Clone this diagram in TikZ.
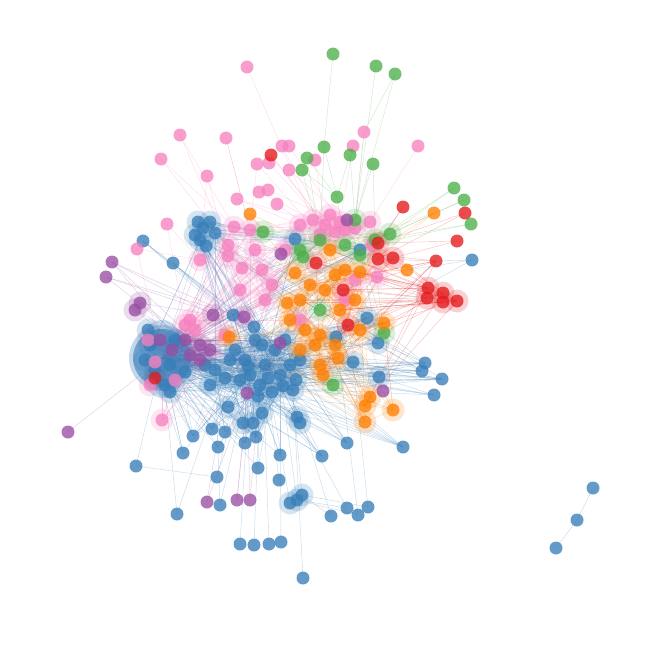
\documentclass[tikz,border=0pt]{standalone}
\pgfdeclarelayer{edges}
\pgfdeclarelayer{halo}
\pgfsetlayers{edges,halo,main}
\definecolor{cb}{HTML}{377EB8}
\definecolor{cp}{HTML}{F781BF}
\definecolor{cg}{HTML}{4DAF4A}
\definecolor{cr}{HTML}{E41A1C}
\definecolor{co}{HTML}{FF7F00}
\definecolor{cu}{HTML}{984EA3}
\tikzset{
  vtx/.style={circle, inner sep=0pt, minimum size=13pt, draw=none, fill opacity=0.78},
  vb/.style={vtx, fill=cb}, vp/.style={vtx, fill=cp}, vg/.style={vtx, fill=cg},
  vr/.style={vtx, fill=cr}, vo/.style={vtx, fill=co}, vu/.style={vtx, fill=cu},
  lnk/.style={line width=0.45pt, draw opacity=0.28},
  lb/.style={lnk, draw=cb}, lp/.style={lnk, draw=cp}, lg/.style={lnk, draw=cg},
  lr/.style={lnk, draw=cr}, lo/.style={lnk, draw=co}, lu/.style={lnk, draw=cu},
  glow/.style={fill opacity=0.2}
}
\begin{document}
\begin{tikzpicture}[x=1pt,y=-1pt]
\useasboundingbox (0,0) rectangle (648,648);
\node[vb, minimum size=58pt, fill opacity=0.6] (H) at (162,358) {};
% blue
\foreach \n/\x/\y in {1/203/228,2/195/235,3/210/222,4/198/222,5/206/246,6/143/241,7/173/263,8/472/260,9/233/315,10/254/327,
11/295/239,12/367/318,13/378/343,14/336/337,15/360/250,16/425/363,17/422/371,18/442/379,19/434/395,20/379/377,
21/353/362,22/347/443,23/403/447,24/322/456,25/228/407,26/262/413,27/243/423,28/253/423,29/297/417,30/300/423,
31/293/390,32/212/429,33/225/432,34/193/436,35/218/447,36/245/443,37/183/453,38/256/437,39/280/455,40/258/468,
41/136/466,42/217/477,43/220/505,44/177/514,45/279/480,46/297/500,47/302/495,48/290/503,49/331/516,50/347/508,
51/240/544,52/254/545,53/269/544,54/281/542,55/303/578,56/358/515,57/368/507,58/593/488,59/577/520,60/556/548,
61/265/365,62/250/375,63/280/375,64/260/385,65/245/360,66/275/350,67/290/365,68/230/360,69/215/370,70/255/340,
71/262/345,72/240/380,73/272/392,74/285/340,75/200/240,76/215/233,77/150/345,78/170/365,79/155/370,80/175/340,
81/145/360,82/185/372,83/165/385,84/235/350,85/248/366,86/268/378,87/283/386,88/296/380,89/300/360,90/258/396,
91/225/378,92/205/365,93/210/385,94/148/330,95/170/392}
  \node[vb] (b\n) at (\x,\y) {};
% pink
\foreach \n/\x/\y in {1/247/67,2/180/135,3/226/138,4/161/159,5/207/176,6/237/199,7/167/224,8/137/249,9/282/146,10/289/146,
11/257/164,12/269/163,13/289/170,14/259/192,15/268/190,16/277/204,17/364/132,18/353/146,19/418/146,20/315/160,
21/234/227,22/228/245,23/228/256,24/242/268,25/200/260,26/190/320,27/162/420,28/313/220,29/325/225,30/340/222,
31/355/228,32/370/222,33/320/235,34/377/277,35/345/300,36/300/320,37/262/270,38/272/285,39/255/250,40/285/250,
41/265/300,42/250/230,43/372/245,44/225/335,45/185/325,46/195/330,47/300/225,48/335/232,49/240/290,50/355/280,
51/155/362,52/148/340,53/175/380,54/150/385,55/330/215,56/345/230}
  \node[vp] (p\n) at (\x,\y) {};
% green
\foreach \n/\x/\y in {1/333/54,2/376/66,3/395/74,4/324/147,5/350/155,6/373/164,7/307/158,8/302/170,9/337/197,10/454/188,
11/464/200,12/471/224,13/263/232,14/390/234,15/360/255,16/303/257,17/384/333,18/333/385,19/355/220,20/375/240,
21/345/245,22/320/240,23/300/250,24/320/310}
  \node[vg] (g\n) at (\x,\y) {};
% red
\foreach \n/\x/\y in {1/271/155,2/403/207,3/465/213,4/457/241,5/436/261,6/428/288,7/427/298,8/443/293,9/443/302,10/457/301,
11/393/258,12/378/259,13/378/243,14/316/263,15/348/325,16/155/378,17/343/290}
  \node[vr] (r\n) at (\x,\y) {};
% orange
\foreach \n/\x/\y in {1/250/214,2/434/213,3/407/270,4/360/272,5/229/337,6/338/358,7/323/375,8/370/397,9/365/406,10/393/410,
11/365/422,12/384/323,13/295/273,14/310/285,15/300/300,16/325/290,17/335/275,18/290/320,19/305/330,20/320/335,
21/340/310,22/300/350,23/315/345,24/355/300,25/330/250,26/287/303,27/345/270,28/360/330,29/320/365,30/335/345}
  \node[vo] (o\n) at (\x,\y) {};
% purple
\foreach \n/\x/\y in {1/112/262,2/106/277,3/140/303,4/135/310,5/213/315,6/244/317,7/281/254,8/347/220,9/280/343,10/383/391,
11/247/393,12/207/502,13/237/500,14/250/500,15/68/432,16/200/345,17/190/355,18/210/350,19/185/340,20/172/350,21/160/340,
22/200/360}
  \node[vu] (u\n) at (\x,\y) {};

\begin{pgfonlayer}{halo}
\foreach \n in {1,2,3,4,5,11,12,13,14,20,21,25,26,27,28,29,30,31,46,47,48,61,62,63,64,65,66,67,68,69,70,71,72,73,74,75,76,77,78,79,80,81,82,83,84,85,86,87,88,89,90,91,92,93,94,95}
  \fill[cb, glow] (b\n.center) circle (11.5pt);
\foreach \n in {21,...,56} \fill[cp, glow] (p\n.center) circle (11.5pt);
\foreach \n in {13,...,24} \fill[cg, glow] (g\n.center) circle (11.5pt);
\foreach \n in {6,...,17} \fill[cr, glow] (r\n.center) circle (11.5pt);
\foreach \n in {4,...,30} \fill[co, glow] (o\n.center) circle (11.5pt);
\foreach \n in {3,4,5,6,16,17,18,19,20,21,22} \fill[cu, glow] (u\n.center) circle (11.5pt);
\fill[cb, fill opacity=0.3] (H.center) circle (33pt);
\fill[cb, fill opacity=0.25] (162,338) circle (18pt);
\fill[cb, fill opacity=0.25] (163,380) circle (18pt);
\end{pgfonlayer}

\begin{pgfonlayer}{edges}
\foreach \a/\b in {b6/b9,b6/b10,b6/u6,b6/b70,b7/b9,b7/b10,b7/b70,b1/b11,b3/b11,b4/g13,b1/g21,b3/b15,b2/b70,b5/b10,b5/b9,
b1/b66,b75/b61,b76/b11,b2/b61,b4/b15,b8/r5,b8/o3,b16/b61,b17/b61,b18/b67,b19/b61,b16/b12,b17/b14,b18/b21,b19/b20,
b16/b13,b22/b61,b23/b61,b23/b31,b24/b62,b22/b67,b24/b64,b41/H,b41/b42,b42/b65,b43/b62,b43/b69,b44/b68,b44/H,b45/b61,
b46/b63,b47/b67,b48/b61,b49/b47,b49/b31,b50/b46,b50/b29,b51/b62,b52/b64,b53/b71,b54/b63,b55/b31,b56/b46,b56/b14,
b57/b47,b57/b21,b58/b59,b59/b60,b34/H,b37/H,b32/H,b35/b61,b36/b61,b38/b62,b39/b63,b40/b64,b25/b61,b26/b62,b27/b65,
b28/b68,b29/b67,b30/b63,b31/b66,b33/b69,b12/b61,b13/b61,b14/b61,b20/b61,b21/b61,b9/H,b10/H,b11/b61,b15/b61,b71/H,b73/H,
b1/b70,b3/b71,b4/b9,b75/H,b76/b66,b11/b15,b15/b13,b8/b12}
  \draw[lb] (\a.center) -- (\b.center);
\foreach \a/\b in {p1/p28,p2/p21,p2/p22,p3/p42,p4/p21,p4/p22,p5/p23,p5/p25,p6/p29,p7/p45,p7/p25,p8/p25,p8/H,p9/p29,
p10/p30,p11/p33,p12/p29,p13/p31,p14/p28,p15/p30,p16/p33,p17/p31,p18/p30,p19/p32,p20/p29,p27/H,p27/b25,p26/H,p45/H,
p46/H,p21/H,p22/H,p23/H,p24/H,p25/H,p6/p47,p11/p42,p3/p39}
  \draw[lp] (\a.center) -- (\b.center);
\foreach \a/\b in {g1/g4,g2/g19,g3/p17,p17/g19,g3/g19,g4/g9,g5/g9,g5/g19,g6/g19,g6/g20,g7/g22,g8/g22,g9/g21,g10/g20,
g11/g14,g12/r13,g12/g20,g13/g22,g14/g21,g15/g23,g16/g22,g17/o21,g18/o7,g24/o16,g18/b61,g17/b61,g11/g20,g10/g14,g4/g22,
g7/g9,g8/g9}
  \draw[lg] (\a.center) -- (\b.center);
\foreach \a/\b in {r1/p29,r2/r13,r3/r12,r4/r11,r5/r12,r6/r17,r7/r17,r8/r13,r9/o4,r10/r12,r6/r14,r7/r14,r8/r11,r5/r17,
r4/r13,r3/r13,r2/o4,r6/o16,r9/o21,r10/o24,r8/r15,r7/o15,r9/o26,r10/r14,r15/b61,r14/H,r17/H}
  \draw[lr] (\a.center) -- (\b.center);
\foreach \a/\b in {o2/o25,o2/o4,o3/o17,o3/o13,o6/b61,o7/b61,o8/o21,o9/o16,o10/o12,o11/o20,o11/o15,o5/H,o1/o13,o8/b61,
o10/o24,o1/o25,o2/o27,o12/o21,o9/b67,o11/b61}
  \draw[lo] (\a.center) -- (\b.center);
\foreach \a/\b in {u1/u16,u1/u17,u1/u5,u2/u6,u2/u19,u3/u16,u4/u17,u3/u5,u4/u18,u15/H,u12/u11,u13/u11,u14/u11,u12/b68,
u13/b62,u14/b64,u10/b61,u9/b61,u7/p24,u8/p30,u7/H,u8/H,u5/H,u6/H,u1/b9,u2/b10}
  \draw[lu] (\a.center) -- (\b.center);
% dense interior
\pgfmathsetseed{12}
\foreach \k in {1,...,150} {\pgfmathrandominteger{\ra}{61}{95}\pgfmathrandominteger{\rb}{9}{40}
  \draw[lb] (b\ra.center) -- (b\rb.center);}
\foreach \k in {1,...,80} {\pgfmathrandominteger{\ra}{61}{95}\pgfmathrandominteger{\rb}{61}{95}
  \draw[lb] (b\ra.center) -- (b\rb.center);}
\foreach \k in {9,...,40} \draw[lb] (H.center) -- (b\k.center);
\foreach \k in {61,...,74} \draw[lb] (H.center) -- (b\k.center);
\foreach \k in {84,...,93} \draw[lb] (H.center) -- (b\k.center);
\foreach \k in {1,...,50} {\pgfmathrandominteger{\ra}{61}{93}\pgfmathrandominteger{\rb}{4}{30}
  \draw[lb] (b\ra.center) -- (o\rb.center);}
\foreach \k in {1,...,60} {\pgfmathrandominteger{\ra}{21}{50}\pgfmathrandominteger{\rb}{21}{56}
  \draw[lp] (p\ra.center) -- (p\rb.center);}
\foreach \k in {1,...,25} {\pgfmathrandominteger{\ra}{21}{50}
  \draw[lp] (p\ra.center) -- (H.center);}
\foreach \k in {1,...,20} {\pgfmathrandominteger{\ra}{21}{50}\pgfmathrandominteger{\rb}{61}{74}
  \draw[lp] (p\ra.center) -- (b\rb.center);}
\foreach \k in {1,...,60} {\pgfmathrandominteger{\ra}{4}{30}\pgfmathrandominteger{\rb}{4}{30}
  \draw[lo] (o\ra.center) -- (o\rb.center);}
\foreach \k in {1,...,25} {\pgfmathrandominteger{\ra}{4}{30}\pgfmathrandominteger{\rb}{61}{93}
  \draw[lo] (o\ra.center) -- (b\rb.center);}
\foreach \k in {1,...,35} {\pgfmathrandominteger{\ra}{5}{14}\pgfmathrandominteger{\rb}{4}{30}
  \draw[lr] (r\ra.center) -- (o\rb.center);}
\foreach \k in {1,...,35} {\pgfmathrandominteger{\ra}{13}{24}\pgfmathrandominteger{\rb}{28}{43}
  \draw[lg] (g\ra.center) -- (p\rb.center);}
\foreach \k in {1,...,25} {\pgfmathrandominteger{\ra}{16}{22}\pgfmathrandominteger{\rb}{61}{93}
  \draw[lu] (u\ra.center) -- (b\rb.center);}
\end{pgfonlayer}
\end{tikzpicture}
\end{document}
